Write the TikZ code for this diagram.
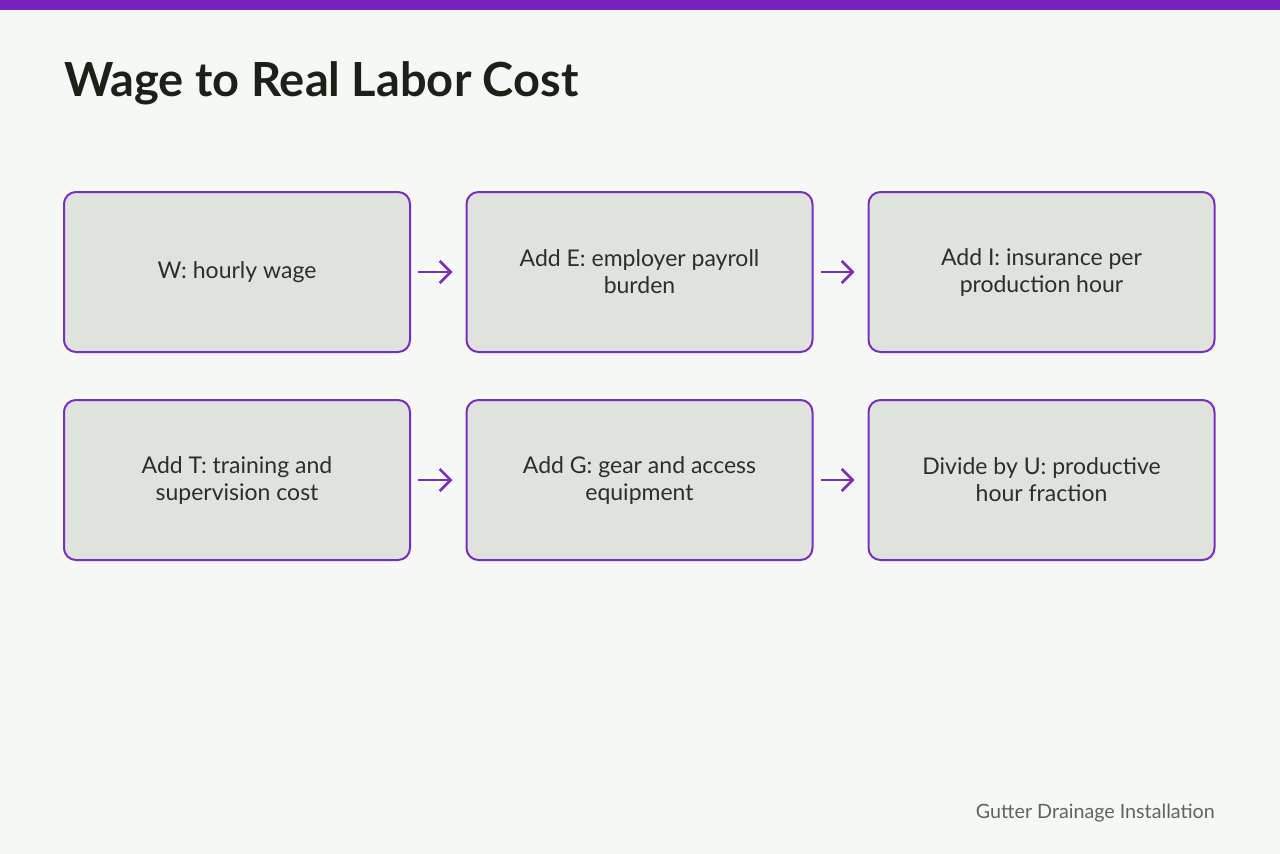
\documentclass[tikz,border=0pt]{standalone}
\usepackage{fontspec}
\setmainfont{Lato}
\usetikzlibrary{arrows.meta}
\definecolor{bg}{HTML}{F6F8F6}
\definecolor{barc}{HTML}{7B22BE}
\definecolor{boxfill}{HTML}{DFE3DD}
\definecolor{boxline}{HTML}{7D2CC0}
\definecolor{txt}{HTML}{2A2F2A}
\definecolor{titlec}{HTML}{1C2118}
\definecolor{foot}{HTML}{5C655C}
\tikzset{
  stepbox/.style={draw=boxline, line width=2pt, fill=boxfill, rounded corners=12pt,
    minimum width=346pt, minimum height=160pt, align=center, text=txt,
    font=\fontsize{23}{27}\selectfont, inner sep=0pt},
  flow/.style={draw=boxline, line width=2.5pt, -{Straight Barb[length=11pt,width=22pt,line width=2.5pt]}}
}
\begin{document}
\begin{tikzpicture}[x=1pt,y=-1pt]
\useasboundingbox (0,0) rectangle (1280,854);
\fill[bg] (0,0) rectangle (1280,854);
\fill[barc] (0,0) rectangle (1280,10);
\node[anchor=base west, inner sep=0pt, text=titlec, font=\fontsize{47}{52}\selectfont\bfseries] (title) at (64,96) {Wage to Real Labor Cost};
\node[stepbox] (b1) at (237,272) {W: hourly wage};
\node[stepbox] (b2) at (639.5,272) {Add E: employer payroll\\burden};
\node[stepbox] (b3) at (1041.5,272) {Add I: insurance per\\production hour};
\node[stepbox] (b4) at (237,480) {Add T: training and\\supervision cost};
\node[stepbox] (b5) at (639.5,480) {Add G: gear and access\\equipment};
\node[stepbox] (b6) at (1041.5,480) {Divide by U: productive\\hour fraction};
\draw[flow] ([xshift=7pt]b1.east) -- ([xshift=-13pt]b2.west);
\draw[flow] ([xshift=7pt]b2.east) -- ([xshift=-13pt]b3.west);
\draw[flow] ([xshift=7pt]b4.east) -- ([xshift=-13pt]b5.west);
\draw[flow] ([xshift=7pt]b5.east) -- ([xshift=-13pt]b6.west);
\node[anchor=base east, inner sep=0pt, text=foot, font=\fontsize{19.7}{23}\selectfont] (footer) at (1215,818) {Gutter Drainage Installation};
\end{tikzpicture}
\end{document}
